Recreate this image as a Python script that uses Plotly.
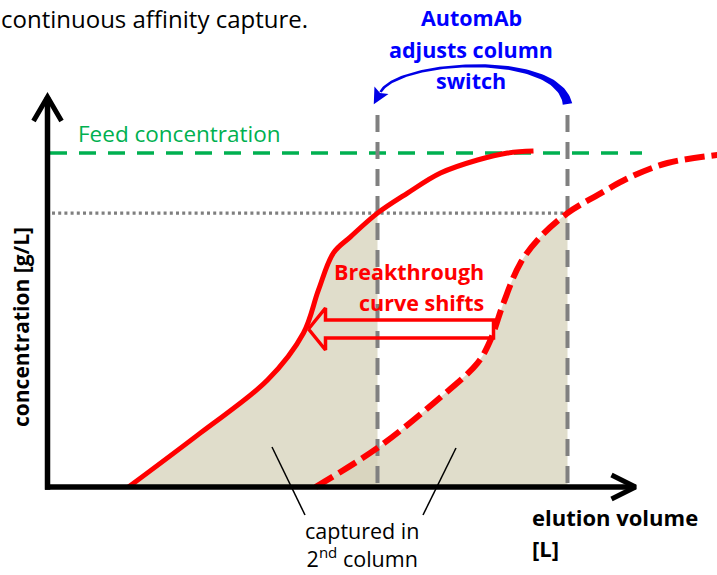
import numpy as np
import plotly.graph_objects as go

# ---------------- data ----------------
# elution volume [L] (arbitrary schematic units), concentration [g/L]
solid_v = [1.62, 3.06, 4.40, 5.12, 5.42, 5.72, 6.06, 6.60, 7.20, 7.86, 8.60, 9.20, 9.72]
solid_c = [0.00, 1.62, 3.20, 4.61, 5.90, 7.01, 7.49, 8.20, 8.80, 9.40, 9.79, 10.00, 10.06]

dashed_v = [5.36, 6.60, 7.72, 8.60, 8.86, 9.12, 9.46, 9.86, 10.40, 11.00, 11.66, 12.40, 13.40]
dashed_c = [0.00, 1.17, 2.51, 3.71, 4.40, 5.51, 6.71, 7.49, 8.20, 8.74, 9.28, 9.70, 9.94]

feed_conc = 10.0          # feed concentration
threshold_conc = 8.2      # breakthrough threshold (dotted line)
switch_old = 6.60         # column switch volume (adjusted, earlier)
switch_new = 10.40        # column switch volume (original)
shift_from = 8.92         # breakthrough curve shift arrow: tail
shift_to = 5.22           # breakthrough curve shift arrow: tip
shift_conc = 4.73
axis_v_end = 11.76
axis_c_end = 11.68
switch_line_top = 11.14

# ---------------- pixel helpers ----------------
W, H = 717, 575
OX, OY, SX, SY = 47.5, 487.0, 50.0, 33.4


def PX(v):
    return OX + SX * v


def PY(c):
    return OY - SY * c


def V(px):
    return (np.asarray(px) - OX) / SX


def C(py):
    return (OY - np.asarray(py)) / SY


RED = "#ff0000"
GREEN = "#00b050"
GRAY = "#808080"
BLUE = "#0000ff"
FILL = "rgba(215,211,188,0.774)"

fig = go.Figure()


def line(x, y, color, width, dash="solid", shape="linear"):
    fig.add_trace(go.Scatter(x=list(x), y=list(y), mode="lines",
                             line=dict(color=color, width=width, dash=dash, shape=shape,
                                       smoothing=1.0 if shape == "spline" else None),
                             hoverinfo="skip", showlegend=False))


# captured areas
sv = [v for v in solid_v if v <= switch_old]
sc = solid_c[:len(sv)]
fig.add_trace(go.Scatter(x=sv, y=sc, mode="lines",
                         line=dict(width=0, shape="spline", smoothing=1.0),
                         fill="tozeroy", fillcolor=FILL, hoverinfo="skip", showlegend=False))
dv = [v for v in dashed_v if v <= switch_new]
dc = dashed_c[:len(dv)]
fig.add_trace(go.Scatter(x=dv, y=dc, mode="lines",
                         line=dict(width=0, shape="spline", smoothing=1.0),
                         fill="tozeroy", fillcolor=FILL, hoverinfo="skip", showlegend=False))

# threshold & feed lines
line([V(52), switch_new], [threshold_conc] * 2, "#7f7f7f", 3.2, dash="3px,3.2px")
line([V(50), V(642)], [feed_conc] * 2, GREEN, 3.5, dash="17px,12px")

# switch lines
for s in (switch_old, switch_new):
    line([s, s], [switch_line_top, 0], GRAY, 4, dash="17px,10px")

# breakthrough curves
line(solid_v, solid_c, RED, 5, shape="spline")
line(dashed_v, dashed_c, RED, 6, dash="20px,7px", shape="spline")

# axes with open arrowheads
line([0, 0], [-0.08, axis_c_end], "black", 5.5)
line([-0.05, axis_v_end], [0, 0], "black", 5.5)
tx, ty = PX(0), PY(axis_c_end)
line(V([tx - 14, tx, tx + 14]), C([ty + 24, ty, ty + 24]), "black", 5)
tx, ty = PX(axis_v_end), PY(0)
line(V([tx - 24, tx, tx - 24]), C([ty - 12, ty, ty + 12]), "black", 5)

# hollow shift arrow
xt, xh, xe = PX(shift_to), PX(shift_to) + 17, PX(shift_from)
yc = PY(shift_conc)
ax = [xt, xh, xh, xe, xe, xh, xh, xt]
ay = [yc, yc - 21, yc - 9, yc - 9, yc + 9, yc + 9, yc + 21, yc]
line(V(ax), C(ay), RED, 3.5)

# blue curved arrow (AutomAb adjusts column switch)
p0 = np.array([PX(switch_old) + 3, 92.0])
p1 = np.array([398.0, 60.0])
p2 = np.array([558.0, 50.0])
p3 = np.array([PX(switch_new), 104.0])
t = np.linspace(0, 1, 80)[:, None]
pts = (1 - t) ** 3 * p0 + 3 * (1 - t) ** 2 * t * p1 + 3 * (1 - t) * t ** 2 * p2 + t ** 3 * p3
d = 3 * (1 - t) ** 2 * (p1 - p0) + 6 * (1 - t) * t * (p2 - p1) + 3 * t ** 2 * (p3 - p2)
nrm = np.column_stack([-d[:, 1], d[:, 0]]) / np.linalg.norm(d, axis=1)[:, None]
w = (2.6 + 7 * t[:, 0] ** 4)[:, None] / 2
poly = np.vstack([pts + nrm * w, (pts - nrm * w)[::-1]])
fig.add_trace(go.Scatter(x=V(poly[:, 0]), y=C(poly[:, 1]), mode="lines", fill="toself",
                         fillcolor="#0000e6", line=dict(width=0), hoverinfo="skip",
                         showlegend=False))
u = (p0 - p1) / np.linalg.norm(p0 - p1)
perp = np.array([-u[1], u[0]])
tip = p0 + u * 14
b1 = p0 - u * 2 + perp * 8
b2 = p0 - u * 2 - perp * 8
head = np.array([tip, b1, p0 + u * 1, b2, tip])
fig.add_trace(go.Scatter(x=V(head[:, 0]), y=C(head[:, 1]), mode="lines", fill="toself",
                         fillcolor="#0000e6", line=dict(width=0), hoverinfo="skip",
                         showlegend=False))

# pointer lines
line(V([272, 305]), C([447, 515]), "black", 1.5)
line(V([456, 423]), C([448, 515]), "black", 1.5)

# ---------------- text ----------------
FONT = "Open Sans"


def text(s, px, py, size=22, color="black", bold=False, xanchor="center", angle=0,
         yanchor="middle"):
    fig.add_annotation(x=px / W, y=1 - py / H, xref="paper", yref="paper",
                       text=("<b>%s</b>" % s) if bold else s, showarrow=False,
                       xanchor=xanchor, yanchor=yanchor, textangle=angle,
                       font=dict(family=FONT, size=size, color=color))


text("continuous affinity capture.", -1, 0, size=24, xanchor="left", yanchor="top")
text("Feed concentration", 76, 133, size=22.5, color=GREEN, xanchor="left")
text("AutomAb", 471, 18, size=21.5, color=BLUE, bold=True)
text("adjusts column", 471, 50, size=21.5, color=BLUE, bold=True)
text("switch", 471, 81, size=21.5, color=BLUE, bold=True)
text("Breakthrough", 486, 271, size=21.5, color=RED, bold=True, xanchor="right")
text("curve shifts", 486, 302, size=21.5, color=RED, bold=True, xanchor="right")
text("concentration [g/L]", 21, 327, size=21, bold=True, angle=-90)
text("elution volume", 530, 517, size=22, bold=True, xanchor="left")
text("[L]", 530, 548, size=22, bold=True, xanchor="left")
text("captured in<br>2<sup>nd</sup> column", 362, 575, size=21.5, yanchor="bottom")

fig.update_layout(
    width=W, height=H, margin=dict(l=0, r=0, t=0, b=0),
    paper_bgcolor="white", plot_bgcolor="white",
    xaxis=dict(range=[V(0), V(W)], visible=False, fixedrange=True),
    yaxis=dict(range=[C(H), C(0)], visible=False, fixedrange=True),
    showlegend=False,
)
fig.write_html("out.html", config={"displayModeBar": False},
               post_script="document.body.style.margin='0';document.body.style.overflow='hidden';")
